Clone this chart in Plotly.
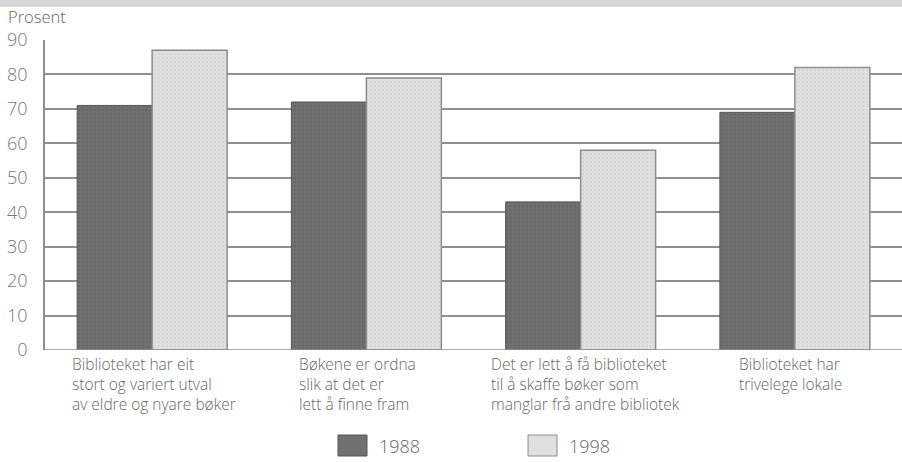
"""Bar chart: opinions about the library, 1988 vs 1998 (prosent)"""

import plotly.graph_objects as go

# data
categories = [
    "Biblioteket har eit<br>stort og variert utval<br>av eldre og nyare bøker",
    "Bøkene er ordna<br>slik at det er<br>lett å finne fram",
    "Det er lett å få biblioteket<br>til å skaffe bøker som<br>manglar frå andre bibliotek",
    "Biblioteket har<br>trivelege lokale",
]
values_1988 = [71, 72, 43, 69]
values_1998 = [87, 79, 58, 82]
y_ticks = [0, 10, 20, 30, 40, 50, 60, 70, 80, 90]

FONT = "Open Sans"
TEXT_COLOR = "#666666"
DARK = "#707070"
LIGHT = "#e0e0e0"

x_idx = list(range(len(categories)))

fig = go.Figure()
fig.add_trace(go.Bar(
    x=x_idx, y=values_1988, name="1988",
    marker=dict(
        color=DARK,
        line=dict(color="#555555", width=1),
        pattern=dict(shape=".", size=4, solidity=0.25, fgcolor="#5c5c5c", bgcolor=DARK),
    ),
))
fig.add_trace(go.Bar(
    x=x_idx, y=values_1998, name="1998",
    marker=dict(
        color=LIGHT,
        line=dict(color="#8c8c8c", width=1.5),
        pattern=dict(shape=".", size=4, solidity=0.25, fgcolor="#cccccc", bgcolor=LIGHT),
    ),
))

# plot area: x 45..902 px, y 40..350 px
W, H = 902, 462
L, R, T, B = 45, 0, 40, 112
pw, ph = W - L - R, H - T - B


def px_x(px):
    return (px - L) / pw


def px_y(py):
    return (H - B - py) / ph


fig.update_layout(
    width=W, height=H,
    margin=dict(l=L, r=R, t=T, b=B),
    paper_bgcolor="white", plot_bgcolor="white",
    barmode="group", bargap=0.3, bargroupgap=0,
    showlegend=False,
    font=dict(family=FONT, color=TEXT_COLOR, size=15, weight=300),
    xaxis=dict(
        range=[-0.5, len(categories) - 0.5],
        showticklabels=False, showgrid=False, zeroline=False,
        showline=False, ticks="",
    ),
    yaxis=dict(
        range=[0, 90], tickvals=y_ticks,
        showgrid=True, gridcolor="#8f8f8f", gridwidth=1.5,
        zeroline=False, showline=True, linecolor="#8f8f8f", linewidth=1.5,
        ticks="", ticklabelstandoff=12,
        tickfont=dict(size=18, color="#777777", family=FONT, weight=300),
    ),
)

# baseline
fig.add_shape(type="line", xref="paper", yref="y", x0=0, x1=1, y0=0, y1=0,
              line=dict(color="#8f8f8f", width=1.5), layer="above")

# grey dotted strip at the very top
fig.add_shape(type="rect", xref="paper", yref="paper",
              x0=px_x(0), x1=px_x(W), y0=px_y(7), y1=px_y(0),
              fillcolor="#d6d6d6", line=dict(width=0), layer="below")

# y axis title
fig.add_annotation(text="Prosent", xref="paper", yref="paper",
                   x=px_x(6), y=px_y(3), xanchor="left", yanchor="top",
                   showarrow=False, font=dict(size=16.5, color=TEXT_COLOR, weight=300))

# category labels, left-aligned under each group
label_shift = [-82, -69, -92, -58]
for i, (cat, dx) in enumerate(zip(categories, label_shift)):
    fig.add_annotation(text=cat, x=i, xref="x", y=0, yref="y",
                       xanchor="left", yanchor="top", align="left",
                       xshift=dx, yshift=-1, showarrow=False,
                       font=dict(size=15.5, color=TEXT_COLOR, weight=300))

# custom legend
legend_items = [("1988", DARK, "#555555", 338), ("1998", LIGHT, "#8c8c8c", 528)]
for name, fill, edge, left in legend_items:
    fig.add_shape(type="rect", xref="paper", yref="paper",
                  x0=px_x(left), x1=px_x(left + 29), y0=px_y(456), y1=px_y(435),
                  fillcolor=fill, line=dict(color=edge, width=1))
    fig.add_annotation(text=name, xref="paper", yref="paper",
                       x=px_x(left + 39), y=px_y(445.5), xanchor="left", yanchor="middle",
                       showarrow=False, font=dict(size=18, color=TEXT_COLOR, weight=300))

# drop the default page margin so the figure fills the window
fig.write_html("out.html", config={"displayModeBar": False},
               post_script="document.body.style.margin = '0';")
